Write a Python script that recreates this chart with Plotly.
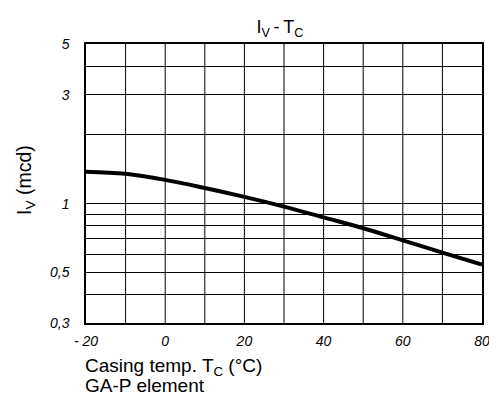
import plotly.graph_objects as go

# Data
temps = [-20, -10, 0, 10, 20, 30, 40, 50, 60, 70, 80]
iv_mcd = [1.38, 1.35, 1.27, 1.17, 1.07, 0.97, 0.87, 0.78, 0.69, 0.61, 0.54]

x_tickvals = [-20, 0, 20, 40, 60, 80]
x_ticktext = ["- 20", "0", "20", "40", "60", "80"]
x_grid = [-20, -10, 0, 10, 20, 30, 40, 50, 60, 70, 80]
y_gridvals = [0.3, 0.4, 0.5, 0.6, 0.7, 0.8, 0.9, 1, 2, 3, 4, 5]
y_labels = {0.3: "0,3", 0.5: "0,5", 1: "1", 3: "3", 5: "5"}

font_fam = "Liberation Sans, Arial, sans-serif"

fig = go.Figure()
fig.add_trace(go.Scatter(
    x=temps, y=iv_mcd, mode="lines",
    line=dict(color="black", width=4, shape="spline", smoothing=1),
    showlegend=False, hoverinfo="skip",
))

fig.update_layout(
    width=489, height=389,
    margin=dict(l=78, r=15, t=36, b=74, autoexpand=False),
    paper_bgcolor="white", plot_bgcolor="white",
    font=dict(family=font_fam, color="black"),
    title=dict(text="I<sub>V</sub>\u2009-\u2009T<sub>C</sub>", x=0.556, xanchor="center",
               y=0.951, yanchor="middle", font=dict(size=18, color="black")),
    xaxis=dict(
        range=[-20, 80], tickmode="array", tickvals=x_tickvals, ticktext=x_ticktext,
        showgrid=False, zeroline=False, showline=True, linecolor="black", linewidth=1.5,
        mirror=True, ticks="", tickfont=dict(size=14, style="italic"),
        ticklabelstandoff=4, automargin=False,
    ),
    yaxis=dict(
        type="log", range=[0.4771 - 1, 0.69897],
        tickmode="array", tickvals=y_gridvals,
        ticktext=[y_labels.get(v, "") for v in y_gridvals],
        showgrid=True, gridcolor="black", gridwidth=1,
        zeroline=False, showline=True, linecolor="black", linewidth=1.5,
        mirror=True, ticks="", tickfont=dict(size=14, style="italic"),
        ticklabelstandoff=12, automargin=False,
    ),
    shapes=[dict(type="line", xref="x", yref="paper", x0=v, x1=v, y0=0, y1=1,
                 line=dict(color="black", width=1), layer="below")
            for v in x_grid[1:-1]],
    annotations=[
        dict(text="I<sub>V</sub> (mcd)", xref="paper", yref="paper",
             x=-0.154, y=0.5125, textangle=-90, showarrow=False,
             xanchor="center", yanchor="middle", font=dict(size=19.5)),
        dict(text="Casing temp. T<sub>C</sub> (°C)",
             xref="paper", yref="paper", x=-0.008, y=-0.157, xanchor="left",
             yanchor="middle", align="left", showarrow=False, font=dict(size=19)),
        dict(text="GA-P element",
             xref="paper", yref="paper", x=-0.008, y=-0.225, xanchor="left",
             yanchor="middle", align="left", showarrow=False, font=dict(size=19)),
    ],
)

fig.write_html("out.html")
